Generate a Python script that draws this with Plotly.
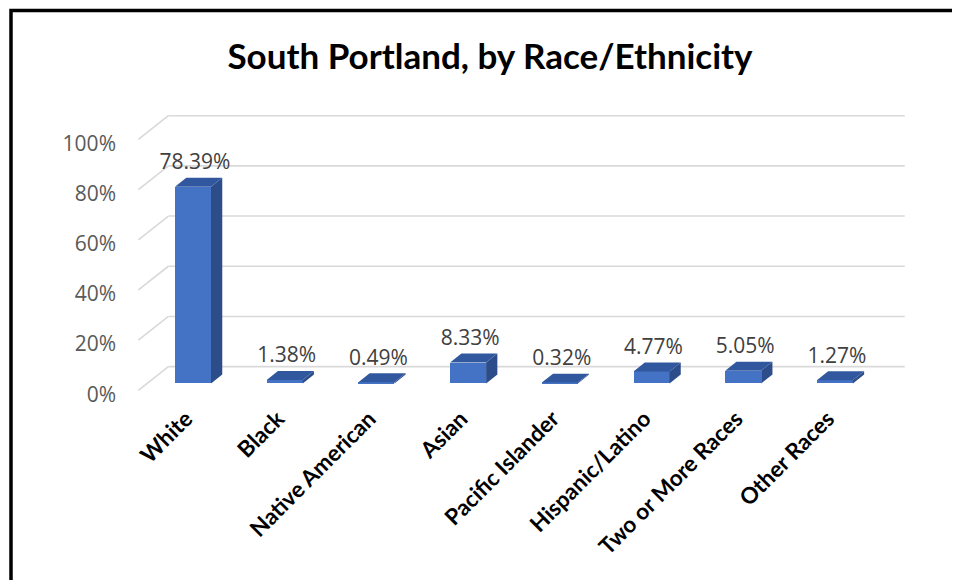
import plotly.graph_objects as go

# ---- data ----
categories = ["White", "Black", "Native American", "Asian", "Pacific Islander",
              "Hispanic/Latino", "Two or More Races", "Other Races"]
values = [78.39, 1.38, 0.49, 8.33, 0.32, 4.77, 5.05, 1.27]
tick_values = [0, 20, 40, 60, 80, 100]
tick_labels = ["0%", "20%", "40%", "60%", "80%", "100%"]
title_text = "South Portland, by Race/Ethnicity"

# ---- geometry (pixel layout of the pseudo-3D frame) ----
W, H = 960, 580
OFF = 8                        # page body margin offset
X0_PX, STEP = 193.0 - OFF, 91.7  # front-face centre of first category, spacing
Y0_PX, K = 388.0 - OFF, 2.54     # 0% on the bar front plane, px per percent
SLANT = 1.25                   # horizontal px per vertical px of depth
BAR_DEPTH = 9.0                # depth of the bars (px)
WALL_BACK = 17.0               # back wall depth behind bar front plane
WALL_FRONT = -7.0              # floor front edge relative to bar front plane
BAR_W_PX = 36.0
DOM_X = (120 - OFF, 952 - OFF)
DOM_Y = (95 - OFF, 405 - OFF)


def xd(px):
    return (px - X0_PX) / STEP


def yd(py):
    return (Y0_PX - py) / K


def sx(d):
    return d * SLANT / STEP


def sy(d):
    return d / K


x_range = [xd(DOM_X[0]), xd(DOM_X[1])]
y_range = [yd(DOM_Y[1]), yd(DOM_Y[0])]
WALL_L, WALL_R = -0.5, len(categories) - 0.47

FRONT = "#4472C4"
SIDE = "#2C4D89"
TOP = "#31589E"
GRID = "#D9D9D9"

fig = go.Figure()

idx = list(range(len(categories)))
hw = BAR_W_PX / STEP / 2

# front faces
fig.add_trace(go.Bar(x=idx, y=values, width=2 * hw, marker=dict(color=FRONT, line=dict(width=0)),
                     hoverinfo="skip", showlegend=False))

# side and top faces
for i, v in enumerate(values):
    xl, xr = i - hw, i + hw
    ox, oy = sx(BAR_DEPTH), sy(BAR_DEPTH)
    fig.add_trace(go.Scatter(x=[xr, xr, xr + ox, xr + ox, xr], y=[0, v, v + oy, oy, 0],
                             fill="toself", fillcolor=SIDE, mode="lines", line=dict(width=0, color=SIDE),
                             hoverinfo="skip", showlegend=False))
    fig.add_trace(go.Scatter(x=[xl, xr, xr + ox, xl + ox, xl], y=[v, v, v + oy, v + oy, v],
                             fill="toself", fillcolor=TOP, mode="lines", line=dict(width=0, color=TOP),
                             hoverinfo="skip", showlegend=False))

# value labels
fig.add_trace(go.Scatter(x=[i + 2 / STEP for i in idx],
                         y=[v + sy(BAR_DEPTH) + 14 / K for v in values],
                         text=[f"{v:.2f}%" for v in values], mode="text",
                         textfont=dict(family="Open Sans", size=21, color="#404040"),
                         hoverinfo="skip", showlegend=False, cliponaxis=False))

# invisible trace for label axis
fig.add_trace(go.Scatter(x=[None], y=[None], yaxis="y2", showlegend=False, hoverinfo="skip"))

# gridlines on back and side walls
shapes = []
for t in tick_values:
    shapes.append(dict(type="line", xref="x", yref="y", layer="below",
                       x0=WALL_L + sx(WALL_BACK), y0=t + sy(WALL_BACK),
                       x1=WALL_R + sx(WALL_BACK), y1=t + sy(WALL_BACK),
                       line=dict(color=GRID, width=1.6)))
    shapes.append(dict(type="line", xref="x", yref="y", layer="below",
                       x0=WALL_L + sx(WALL_FRONT), y0=t + sy(WALL_FRONT),
                       x1=WALL_L + sx(WALL_BACK), y1=t + sy(WALL_BACK),
                       line=dict(color=GRID, width=1.6)))

# outer border (top and left edges visible)
shapes.append(dict(type="rect", xref="paper", yref="paper", layer="above",
                   x0=(11 - OFF) / W, x1=1.1, y0=-0.1, y1=1 - (10.5 - OFF) / H,
                   line=dict(color="black", width=3.5), fillcolor="rgba(0,0,0,0)"))

lbl_shift = 11 / K
fig.update_layout(
    width=W, height=H,
    margin=dict(l=0, r=0, t=0, b=0),
    paper_bgcolor="white", plot_bgcolor="white",
    shapes=shapes,
    bargap=0,
    title=dict(text=title_text, x=(490 - OFF) / W, y=1 - (57 - OFF) / H, xanchor="center", yanchor="middle",
               font=dict(family="Lato", size=35, color="black", weight="bold")),
    xaxis=dict(domain=[DOM_X[0] / W, DOM_X[1] / W], range=x_range, tickmode="array",
               tickvals=[i - 7 / STEP for i in idx], ticktext=categories, tickangle=-45,
               showgrid=False, zeroline=False, showline=False, ticks="", fixedrange=True,
               tickfont=dict(family="Lato", size=22.5, color="black", weight="bold")),
    yaxis=dict(domain=[1 - DOM_Y[1] / H, 1 - DOM_Y[0] / H], range=y_range, showgrid=False,
               zeroline=False, showline=False, showticklabels=False, ticks="", fixedrange=True),
    yaxis2=dict(overlaying="y", anchor="free", position=(116 - OFF) / W, side="left",
                range=[y_range[0] + lbl_shift, y_range[1] + lbl_shift], tickmode="array",
                tickvals=tick_values, ticktext=tick_labels, showgrid=False, zeroline=False,
                showline=False, ticks="", fixedrange=True,
                tickfont=dict(family="Open Sans", size=21, color="#595959")),
)

fig.write_html("out.html")
